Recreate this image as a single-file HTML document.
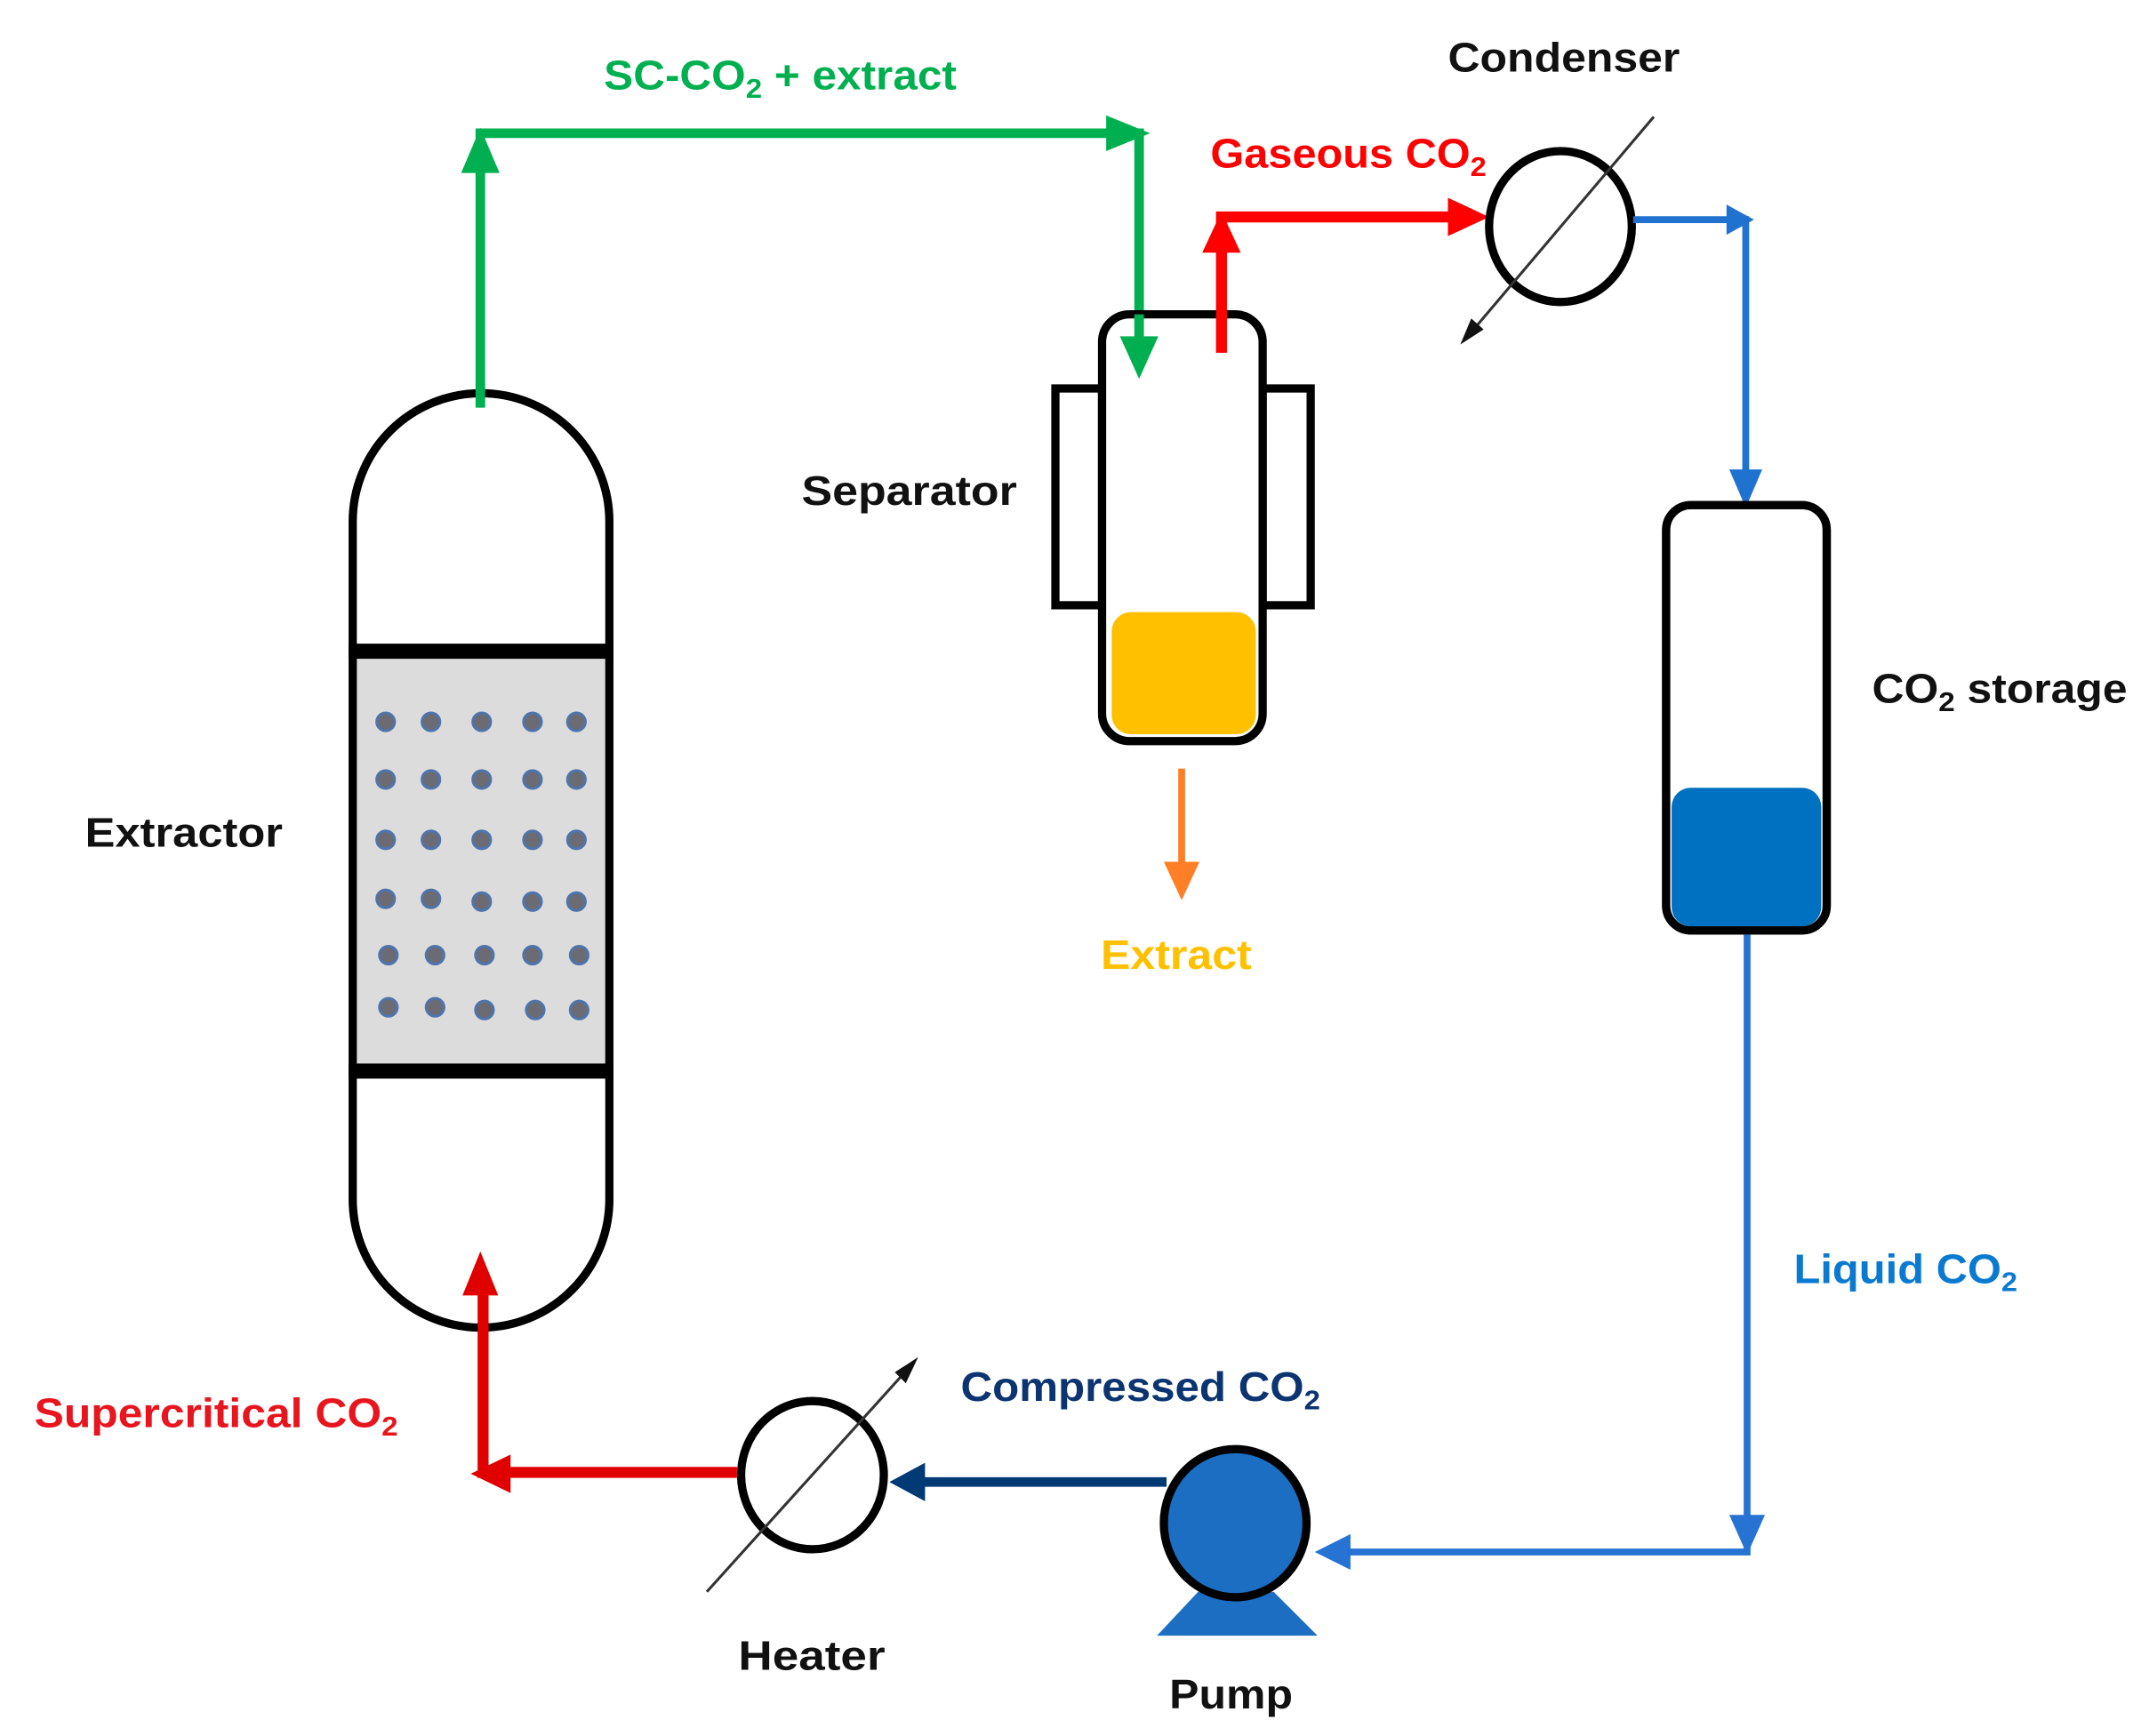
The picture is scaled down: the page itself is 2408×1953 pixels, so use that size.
<!DOCTYPE html>
<html><head><meta charset="utf-8"><style>html,body{margin:0;padding:0;background:#fff}svg{display:block}text{font-family:"Liberation Sans",sans-serif;font-size:30px;font-weight:bold}</style></head>
<body>
<svg width="2408" height="1953" viewBox="0 0 1560 1265" xmlns="http://www.w3.org/2000/svg">
<rect width="1560" height="1265" fill="#fff"/>
<!-- Extractor -->
<rect x="257" y="475" width="187" height="305" fill="#dcdcdc"/>
<path d="M257,475 V380 A93.5,93.5 0 0 1 444,380 V475" fill="none" stroke="#000" stroke-width="6"/>
<path d="M257,780 V874 A93.5,93.5 0 0 0 444,874 V780" fill="none" stroke="#000" stroke-width="6"/>
<line x1="257" y1="475" x2="257" y2="780" stroke="#000" stroke-width="6"/>
<line x1="444" y1="475" x2="444" y2="780" stroke="#000" stroke-width="6"/>
<rect x="254" y="469" width="193" height="11" fill="#000"/>
<rect x="254" y="775" width="193" height="11" fill="#000"/>
<g fill="#6b6b73" stroke="#4f74ab" stroke-width="2">
<circle cx="281" cy="526" r="6.5"/><circle cx="314" cy="526" r="6.5"/><circle cx="351" cy="526" r="6.5"/><circle cx="388" cy="526" r="6.5"/><circle cx="420" cy="526" r="6.5"/>
<circle cx="281" cy="568" r="6.5"/><circle cx="314" cy="568" r="6.5"/><circle cx="351" cy="568" r="6.5"/><circle cx="388" cy="568" r="6.5"/><circle cx="420" cy="568" r="6.5"/>
<circle cx="281" cy="612" r="6.5"/><circle cx="314" cy="612" r="6.5"/><circle cx="351" cy="612" r="6.5"/><circle cx="388" cy="612" r="6.5"/><circle cx="420" cy="612" r="6.5"/>
<circle cx="281" cy="655" r="6.5"/><circle cx="314" cy="655" r="6.5"/><circle cx="351" cy="657" r="6.5"/><circle cx="388" cy="657" r="6.5"/><circle cx="420" cy="657" r="6.5"/>
<circle cx="283" cy="696" r="6.5"/><circle cx="317" cy="696" r="6.5"/><circle cx="353" cy="696" r="6.5"/><circle cx="388" cy="696" r="6.5"/><circle cx="422" cy="696" r="6.5"/>
<circle cx="283" cy="734" r="6.5"/><circle cx="317" cy="734" r="6.5"/><circle cx="353" cy="736" r="6.5"/><circle cx="390" cy="736" r="6.5"/><circle cx="422" cy="736" r="6.5"/>
</g>
<!-- Green -->
<g stroke="#00b050" stroke-width="7" fill="none">
<path d="M350,297 V97 H830 V260"/>
</g>
<polygon points="350,93 336,126 364,126" fill="#00b050"/>
<polygon points="838,97 806,84 806,110" fill="#00b050"/>
<polygon points="830,276 816,245 844,245" fill="#00b050"/>
<!-- Separator -->
<rect x="769" y="283" width="34" height="158" fill="#fff" stroke="#000" stroke-width="6"/>
<rect x="920" y="283" width="35" height="158" fill="#fff" stroke="#000" stroke-width="6"/>
<rect x="803" y="229" width="117" height="311" rx="20" fill="#fff" stroke="#000" stroke-width="6"/>
<rect x="810" y="446" width="105" height="89" rx="14" fill="#ffc000"/>
<!-- re-draw green arrow head over separator -->
<line x1="830" y1="229" x2="830" y2="262" stroke="#00b050" stroke-width="7"/>
<polygon points="830,276 816,245 844,245" fill="#00b050"/>
<!-- Red gaseous -->
<path d="M890,257 V158 H1065" stroke="#ff0000" stroke-width="8" fill="none"/>
<polygon points="890,154 876,184 904,184" fill="#ff0000"/>
<polygon points="1085,158 1055,144 1055,172" fill="#ff0000"/>
<!-- Condenser -->
<ellipse cx="1137" cy="165" rx="52" ry="55" fill="none" stroke="#000" stroke-width="6"/>
<line x1="1205" y1="85" x2="1072" y2="242" stroke="#333" stroke-width="2"/>
<polygon points="1064,251 1072,232 1081,240" fill="#111"/>
<!-- Blue to storage -->
<path d="M1190,160 H1272 V352" stroke="#1f72d0" stroke-width="5" fill="none"/>
<polygon points="1278,160 1258,149 1258,171" fill="#1f72d0"/>
<polygon points="1272,370 1260,342 1284,342" fill="#1f72d0"/>
<!-- Storage -->
<rect x="1214" y="368" width="117" height="310" rx="18" fill="#fff" stroke="#000" stroke-width="6"/>
<rect x="1218" y="574" width="109" height="101" rx="14" fill="#0070c0"/>
<rect x="1214" y="368" width="117" height="310" rx="18" fill="none" stroke="#000" stroke-width="6"/>
<!-- Liquid line -->
<path d="M1273,681 V1131 H975" stroke="#2673d4" stroke-width="5" fill="none"/>
<polygon points="1273,1133 1260,1104 1286,1104" fill="#2673d4"/>
<polygon points="958,1131 984,1118 984,1144" fill="#2673d4"/>
<!-- Pump -->
<polygon points="843,1192 960,1192 928,1160 873,1160" fill="#1b6ec2"/>
<ellipse cx="900" cy="1110" rx="52" ry="54" fill="#1b6ec2" stroke="#000" stroke-width="6"/>
<!-- Compressed line -->
<line x1="850" y1="1080" x2="665" y2="1080" stroke="#003a75" stroke-width="7"/>
<polygon points="648,1080 674,1066 674,1094" fill="#003a75"/>
<!-- Heater -->
<ellipse cx="592" cy="1075" rx="52" ry="54" fill="none" stroke="#000" stroke-width="6"/>
<line x1="515" y1="1160" x2="662" y2="997" stroke="#333" stroke-width="2"/>
<polygon points="669,989 660,1008 652,1000" fill="#111"/>
<!-- Red supercritical -->
<path d="M537,1073 H352 V930" stroke="#e00000" stroke-width="8" fill="none"/>
<polygon points="350,912 337,944 363,944" fill="#e00000"/>
<polygon points="343,1074 372,1060 372,1088" fill="#e00000"/>
<!-- Orange -->
<line x1="861" y1="560" x2="861" y2="630" stroke="#ff7f27" stroke-width="5"/>
<polygon points="861,656 848,628 874,628" fill="#ff7f27"/>
<!-- Labels -->
<text x="440" y="65" fill="#00b050" textLength="257" lengthAdjust="spacingAndGlyphs">SC-CO<tspan font-size="20" dy="6">2</tspan><tspan dy="-6"> + extract</tspan></text>
<text x="1055" y="52" fill="#111" textLength="169" lengthAdjust="spacingAndGlyphs">Condenser</text>
<text x="882" y="122" fill="#ff0000" textLength="201" lengthAdjust="spacingAndGlyphs">Gaseous CO<tspan font-size="20" dy="6">2</tspan></text>
<text x="584" y="368" fill="#111" textLength="157" lengthAdjust="spacingAndGlyphs">Separator</text>
<text x="1364" y="512" fill="#111" textLength="186" lengthAdjust="spacingAndGlyphs">CO<tspan font-size="20" dy="6">2</tspan><tspan dy="-6"> storage</tspan></text>
<text x="62" y="617" fill="#111" textLength="144" lengthAdjust="spacingAndGlyphs">Extractor</text>
<text x="802" y="706" fill="#ffc000" textLength="110" lengthAdjust="spacingAndGlyphs">Extract</text>
<text x="1307" y="935" fill="#0a7ad0" textLength="163" lengthAdjust="spacingAndGlyphs">Liquid CO<tspan font-size="20" dy="6">2</tspan></text>
<text x="700" y="1021" fill="#0b3470" textLength="262" lengthAdjust="spacingAndGlyphs">Compressed CO<tspan font-size="20" dy="6">2</tspan></text>
<text x="25" y="1040" fill="#e8141e" textLength="265" lengthAdjust="spacingAndGlyphs">Supercritical CO<tspan font-size="20" dy="6">2</tspan></text>
<text x="538" y="1217" fill="#111" textLength="107" lengthAdjust="spacingAndGlyphs">Heater</text>
<text x="852" y="1245" fill="#111" textLength="90" lengthAdjust="spacingAndGlyphs">Pump</text>
</svg>
</body></html>
